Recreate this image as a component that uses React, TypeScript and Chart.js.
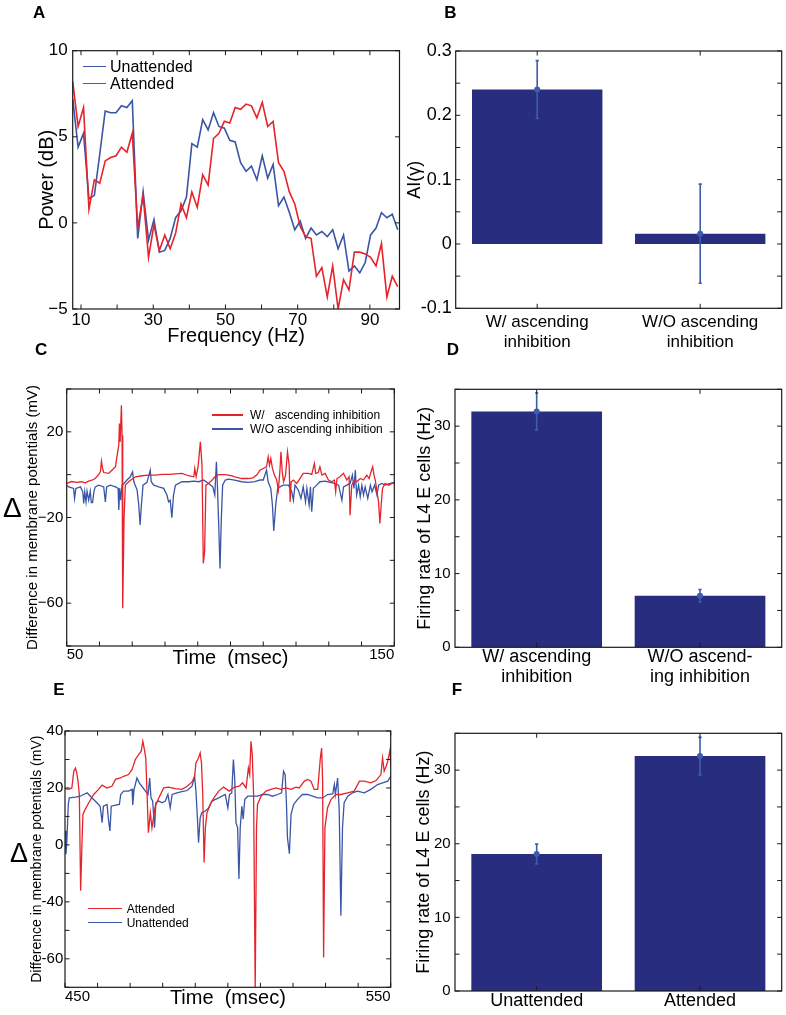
import React, { useEffect, useRef } from 'react';
import { Chart, registerables } from 'chart.js';

Chart.register(...registerables);

const FONT = '"Liberation Sans", Arial, Helvetica, sans-serif';
Chart.defaults.font.family = FONT;
Chart.defaults.color = '#000';

const RED = '#e6232b';
const BLUE = '#3a55a5';
const NAVY = '#282d80';
const ERR = '#3d5dab';

// ---------------- Panel A: power spectrum ----------------
const A_FREQ = [
  7.7, 9.2, 10.7, 12.2, 13.7, 15.2, 16.7, 18.2, 19.7, 21.2,
  22.7, 24.2, 25.7, 27.2, 28.7, 30.2, 31.7, 33.2, 34.7, 36.2,
  37.7, 39.2, 40.7, 42.2, 43.7, 45.2, 46.7, 48.2, 49.7, 51.2,
  52.7, 54.2, 55.7, 57.2, 58.7, 60.2, 61.7, 63.2, 64.7, 66.2,
  67.7, 69.2, 70.7, 72.2, 73.7, 75.2, 76.7, 78.2, 79.7, 81.2,
  82.7, 84.2, 85.7, 87.2, 88.7, 90.2, 91.7, 93.2, 94.7, 96.2,
  97.7,
];
const A_UNATTENDED = [
  7.2, 4.4, 5.2, 1.4, 1.6, 4.0, 6.5, 6.4, 6.4, 6.8,
  6.7, 7.1, -0.9, 1.8, -1.0, 0.2, -1.7, -1.6, -0.9, 0.3,
  0.7, 1.5, 4.6, 4.4, 6.0, 5.4, 6.4, 5.6, 5.5, 4.8,
  4.7, 3.5, 3.0, 3.3, 2.5, 3.9, 2.6, 3.4, 1.0, 1.5,
  0.6, -0.4, 0.1, -0.9, -0.3, -0.7, -0.5, -0.8, -0.4, -1.5,
  -0.7, -2.8, -2.5, -2.9, -2.3, -0.7, -0.3, 0.6, 0.3, 0.5,
  -0.4,
];
const A_ATTENDED = [
  8.2, 5.6, 6.7, 0.8, 2.5, 2.3, 3.6, 3.8, 3.9, 4.4,
  4.1, 5.2, -0.3, 1.6, -2.0, -0.1, -1.6, -0.7, -1.5, -0.6,
  1.1, 0.3, 1.8, 0.9, 2.8, 2.2, 4.9, 5.2, 5.9, 5.8,
  6.7, 6.6, 6.9, 6.8, 6.1, 7.0, 5.6, 5.9, 3.5, 3.0,
  1.8, 1.1, -0.2, -0.8, -0.9, -3.1, -2.6, -4.3, -2.5, -5.0,
  -3.3, -3.9, -1.7, -1.7, -1.8, -2.0, -2.5, -1.2, -4.3, -3.1,
  -3.7,
];
const A_X_TICKS = [10, 20, 30, 40, 50, 60, 70, 80, 90];
const A_X_LABELS = ['10', '', '30', '', '50', '', '70', '', '90'];
const A_Y_TICKS = [-5, 0, 5, 10];
const A_Y_LABELS = ['\u22125', '0', '5', '10'];

// ---------------- Panel B: attention index ----------------
const B_CATEGORIES = [['W/ ascending', 'inhibition'], ['W/O ascending', 'inhibition']];
const B_VALUES = [0.24, 0.016];
const B_ERRORS = [0.045, 0.077];
const B_Y_TICKS = [-0.1, -0.05, 0, 0.05, 0.1, 0.15, 0.2, 0.25, 0.3];
const B_Y_LABELS = ['-0.1', '', '0', '', '0.1', '', '0.2', '', '0.3'];

// ---------------- Panel C: membrane potential differences ----------------
const C_W_TIME = [
  50, 51.5, 53, 54.5, 55.7, 56.7, 57.7, 58.7, 59.8, 60.3,
  60.6, 61.0, 61.3, 62.8, 63.8, 64.9, 65.4, 65.9, 66.1, 66.3,
  66.7, 66.9, 67.1, 67.5, 67.9, 68.9, 69.9, 71.0, 73.0, 75.0,
  77.1, 79.1, 81.1, 83.2, 85.2, 87.2, 88.8, 89.1, 89.5, 90.1,
  90.8, 91.3, 91.7, 92.1, 92.5, 93.3, 94.4, 95.4, 96.4, 98.4,
  100.5, 101.3, 103.4, 105.4, 106.9, 108.0, 109.0, 110.0, 111.0, 111.5,
  111.9, 112.3, 112.8, 113.4, 114.1, 114.6, 115.1, 115.4, 115.8, 116.2,
  116.8, 117.4, 117.9, 118.2, 118.5, 119.2, 120.2, 121.2, 122.2, 123.8,
  124.8, 125.6, 126.0, 126.8, 127.3, 127.9, 128.9, 129.9, 130.9, 131.7,
  132.1, 132.5, 133.4, 134.5, 135.5, 136.2, 136.5, 137.0, 137.9, 138.6,
  139.6, 140.6, 141.6, 142.3, 142.9, 143.4, 143.8, 144.2, 144.7, 145.2,
  145.6, 146.0, 146.4, 147.2, 148.3, 149.3, 150,
];
const C_W_MV = [
  -4.1, -3.2, -3.6, -3.3, -3.8, -3.0, -2.6, -1.8, 0.1, 1.5,
  6.3, 2.5, 1.0, 0.6, 2.1, 3.7, 9.1, 13.8, 23.9, 15.3,
  32.4, 18.4, -62.4, -20.4, -4.9, -3.3, -2.1, -1.0, -0.5, -0.2,
  -0.2, 0.1, 0.1, 0.4, 0.6, -0.5, -1.0, 2.9, -1.0, 3.7,
  15.3, 4.5, -41.4, -36.0, -4.9, -4.1, -2.5, -0.8, 0.0, 0.0,
  -0.6, -1.0, -1.8, -1.8, -1.5, -0.2, 2.1, 2.9, 3.7, 8.3,
  4.4, 7.6, 2.9, -0.2, -2.5, -7.2, 2.1, 10.7, 1.3, -3.3,
  -0.2, 10.7, 4.4, -12.7, -3.3, -2.5, -4.1, -1.8, 0.6, 0.6,
  0.1, 5.2, 0.6, 1.0, 3.7, -0.2, 0.6, -2.5, -3.3, -2.5,
  -8.0, -1.8, -1.0, 0.6, -2.5, -1.0, -18.9, -4.9, -2.5, -3.3,
  -1.8, -2.5, -0.2, -1.8, 1.3, 3.7, -0.2, -2.5, -8.0, -12.7,
  -22.8, -14.2, -6.4, -4.1, -4.9, -4.1, -4.1,
];
const C_WO_TIME = [
  50, 50.6, 52.1, 52.4, 52.8, 54.2, 54.9, 55.2, 55.5, 55.9,
  56.2, 56.7, 57.2, 57.5, 57.9, 58.3, 58.7, 59.8, 61.3, 61.8,
  62.2, 63.3, 64.9, 65.7, 65.9, 66.2, 66.5, 66.9, 67.5, 68.4,
  69.4, 70.1, 70.5, 71.5, 72.0, 72.4, 72.8, 73.3, 74.5, 75.5,
  75.8, 76.6, 78.1, 79.6, 80.6, 81.1, 81.6, 82.1, 82.6, 83.2,
  85.2, 87.2, 88.8, 90.3, 91.8, 93.3, 94.6, 95.2, 95.7, 96.0,
  96.4, 96.8, 97.2, 97.6, 98.4, 99.4,
  101.3, 103.4, 105.4, 107.4, 109.0, 110.0, 111.0, 111.5, 112.3, 112.8,
  113.2, 113.8, 114.4, 115.1, 116.1, 117.7, 118.7, 119.2, 119.7, 120.7,
  121.5, 122.2, 122.9, 123.3, 124.0, 124.4, 124.8, 125.3, 126.3, 127.3,
  128.9, 130.4, 131.7, 133.0, 134.0, 134.5, 135.5, 136.5, 137.2, 137.7,
  138.1, 138.5, 139.1, 139.6, 140.1, 140.6, 141.1, 141.9, 142.7, 143.2,
  144.0, 144.7, 145.2, 146.2, 147.2, 148.8, 150,
];
const C_WO_MV = [
  -4.9, -5.7, -6.4, -11.1, -6.4, -5.7, -8.0, -13.4, -8.0, -12.7,
  -7.7, -11.9, -7.7, -13.0, -13.0, -8.0, -5.7, -4.9, -5.7, -12.7,
  -5.7, -4.9, -5.7, -6.4, -16.5, -6.4, -11.9, -4.9, -4.1, -2.5,
  -1.0, 1.3, -3.3, -7.2, -14.2, -23.5, -14.2, -4.9, -3.6, 2.1,
  -3.3, -4.9, -5.7, -6.4, -9.5, -12.7, -11.9, -20.1, -9.5, -4.9,
  -3.3, -3.3, -3.0, -3.3, -2.5, -4.1, -5.7, -9.5, 6.0, -4.9,
  -23.5, -43.8, -20.4, -4.9, -2.5, -2.1,
  -2.5, -3.3, -3.6, -3.3, -2.5, -2.5, 2.1, -3.3, -6.4, -14.2,
  -26.3, -14.2, -6.4, -5.7, -4.9, -4.9, -8.0, -11.9, -4.9, -7.2,
  -11.1, -5.7, -12.7, -6.4, -14.2, -5.7, -17.3, -6.4, -4.9, -3.3,
  -3.0, -3.6, -4.1, -4.9, -11.9, -5.7, -4.9, -4.1, -0.2, -6.4,
  2.1, -9.5, -4.9, -10.3, -4.9, -9.5, -5.7, -11.1, -4.9, -8.0,
  -4.9, -9.5, -4.9, -4.1, -4.9, -4.1, -3.6,
];
const C_X_TICKS = [50, 60, 70, 80, 90, 100, 110, 120, 130, 140, 150];
const C_X_LABELS = ['50', '', '', '', '', '', '', '', '', '', '150'];
const C_Y_TICKS = [-80, -60, -40, -20, 0, 20, 40];
const C_Y_LABELS = ['', '\u221260', '', '\u221220', '', '20', ''];

// ---------------- Panel D: firing rates ----------------
const D_CATEGORIES = [['W/ ascending', 'inhibition'], ['W/O ascend-', 'ing inhibition']];
const D_VALUES = [32.0, 7.0];
const D_ERRORS = [2.5, 0.85];
const RATE_Y_TICKS = [0, 5, 10, 15, 20, 25, 30, 35];
const RATE_Y_LABELS = ['0', '', '10', '', '20', '', '30', ''];

// ---------------- Panel E: attended vs unattended potentials ----------------
const E_ATT_TIME = [
  450, 451.1, 452.1, 452.7, 453.2, 453.6, 454.0, 454.4, 454.8, 455.2,
  455.5, 456.2, 457.3, 458.8, 460.3, 461.4, 462.9, 464.4, 465.5, 467.0,
  468.0, 469.5, 470.6, 471.6, 472.6, 473.4, 473.9, 474.3, 474.8, 475.2,
  475.6, 476.2, 476.7, 477.7, 478.8, 480.3, 481.8, 483.9, 485.9, 487.5,
  489.0, 489.8, 490.2, 491.0, 491.5, 491.9, 492.3, 492.7, 493.1, 493.6,
  494.6, 495.7, 497.2, 498.7,
  500.4, 502.0, 503.5, 504.5, 505.6, 506.3, 506.7, 507.1, 507.5, 507.9,
  508.4, 508.8, 509.1, 510.2, 511.7, 513.2, 514.8, 516.3, 517.8, 519.4,
  520.9, 521.9, 523.5, 524.5, 525.5, 526.5, 527.6, 528.4, 528.8, 529.1,
  529.4, 529.8, 530.6, 531.7, 533.2, 534.7, 536.8, 538.8, 540.4, 541.9,
  543.9, 545.5, 547.0, 547.5, 548.0, 548.8, 549.3, 549.8, 550,
];
const E_ATT_MV = [
  19.8, 19.5, 20.0, 25.9, 27.0, 25.3, 22.4, 17.7, -16.1, 0.2,
  10.7, 12.5, 14.8, 17.7, 19.5, 21.0, 20.0, 20.6, 23.0, 23.5,
  24.1, 24.7, 26.5, 30.0, 31.7, 32.9, 36.4, 34.0, 30.5, 17.7,
  4.3, 11.3, 6.0, 13.6, 16.5, 20.0, 20.3, 19.8, 19.5, 20.6,
  22.1, 24.1, 28.8, 30.5, 32.3, 28.8, 17.7, -6.2, 6.0, 11.3,
  14.2, 16.5, 18.9, 20.3,
  18.9, 20.3, 20.6, 21.8, 20.0, 27.0, 24.7, 36.4, 31.7, 17.7,
  -50.5, 6.0, 14.2, 17.1, 18.9, 19.5, 20.0, 19.5, 20.0, 19.5,
  20.3, 20.0, 22.4, 23.0, 22.4, 19.5, 19.5, 30.5, 34.0, 22.4,
  -39.5, 6.0, 13.0, 16.0, 17.7, 17.7, 18.3, 18.9, 22.4, 22.4,
  21.8, 22.6, 24.7, 30.5, 25.9, 28.2, 30.5, 33.5, 28.2,
];
const E_UNATT_TIME = [
  450, 450.3, 450.6, 451.0, 451.3, 453.2, 454.7, 455.7, 456.8, 458.3,
  459.8, 460.8, 461.4, 461.8, 462.9, 463.4, 463.8, 464.2, 465.5, 466.7,
  467.1, 468.0, 469.5, 470.6, 470.8, 471.2, 472.1, 472.8, 473.6, 474.7,
  475.5, 476.0, 476.4, 476.9, 477.5, 477.9, 478.8, 479.8, 480.8, 481.6,
  482.3, 482.9, 484.4, 485.9, 487.5, 489.0, 489.8, 490.2, 490.6, 491.0,
  491.5, 492.0, 493.1, 494.1, 495.1, 497.2, 499.2, 500.0, 500.5,
  501.2, 501.7, 502.1, 502.5, 503.0, 503.4, 503.8, 504.3, 504.7, 505.2,
  506.1, 507.6, 509.1, 510.7, 512.2, 513.7, 515.3, 516.5, 517.1, 517.6,
  518.0, 518.3, 518.9, 519.4, 520.2, 521.4, 522.9, 524.5, 526.0, 527.6,
  529.1, 530.6, 532.2, 532.7, 533.0, 533.7, 534.2, 534.7, 535.2, 535.7,
  536.8, 538.3, 539.8, 541.9, 543.9, 546.0, 547.5, 549.1, 550,
];
const E_UNATT_MV = [
  5.0, -3.3, 2.0, 14.0, 16.5, 16.8, 17.1, 17.7, 18.3, 16.5,
  14.8, 13.6, 7.8, 13.6, 14.2, 8.3, 4.9, 13.6, 14.0, 14.2,
  17.7, 18.9, 18.9, 19.5, 14.0, 19.5, 23.5, 21.8, 20.6, 18.9,
  17.7, 23.5, 16.5, 15.4, 6.0, 14.8, 15.4, 14.8, 15.4, 17.7,
  13.0, 17.7, 18.3, 18.7, 19.1, 20.6, 24.1, 18.9, 10.7, 0.8,
  9.5, 11.3, 11.9, 13.0, 15.4, 16.5, 17.7, 13.0, 17.7,
  18.3, 30.0, 23.5, 7.8, 6.0, -12.0, 6.0, 13.6, 9.0, 16.0,
  17.1, 17.1, 17.1, 17.7, 17.7, 17.1, 17.7, 18.3, 25.9, 24.7,
  14.2, 2.5, -3.1, 10.7, 14.2, 16.0, 17.7, 17.7, 17.1, 16.5,
  16.5, 17.7, 17.9, 21.2, 17.7, 23.5, 11.9, -24.9, 6.0, 14.8,
  17.1, 18.3, 18.9, 18.3, 19.5, 21.2, 21.8, 22.4, 24.1,
];
const E_X_TICKS = [450, 460, 470, 480, 490, 500, 510, 520, 530, 540, 550];
const E_X_LABELS = ['450', '', '', '', '', '', '', '', '', '', '550'];
const E_Y_TICKS = [-50, -40, -30, -20, -10, 0, 10, 20, 30, 40];
const E_Y_LABELS = ['', '-60', '', '-40', '', '0', '', '20', '', '40'];

// ---------------- Panel F: firing rates ----------------
const F_CATEGORIES = ['Unattended', 'Attended'];
const F_VALUES = [18.6, 31.9];
const F_ERRORS = [1.35, 2.55];

// ---------------- helpers ----------------
const framePlugin = {
  id: 'matlabFrame',
  afterDraw(chart: any) {
    const { ctx, chartArea: a } = chart;
    const xs = chart.scales.x;
    const ys = chart.scales.y;
    const L = 4.5;
    ctx.save();
    ctx.strokeStyle = '#1a1a1a';
    ctx.lineWidth = 1;
    ctx.beginPath();
    xs.ticks.forEach((_t: any, i: number) => {
      const px = xs.getPixelForTick(i);
      ctx.moveTo(px, a.bottom);
      ctx.lineTo(px, a.bottom - L);
      ctx.moveTo(px, a.top);
      ctx.lineTo(px, a.top + L);
    });
    ys.ticks.forEach((_t: any, i: number) => {
      const py = ys.getPixelForTick(i);
      ctx.moveTo(a.left, py);
      ctx.lineTo(a.left + L, py);
      ctx.moveTo(a.right, py);
      ctx.lineTo(a.right - L, py);
    });
    ctx.stroke();
    ctx.lineWidth = 1.2;
    ctx.strokeRect(a.left, a.top, a.right - a.left, a.bottom - a.top);
    ctx.restore();
  },
};

function errorBarPlugin(values: number[], errors: number[]) {
  return {
    id: 'errorBars',
    afterDatasetsDraw(chart: any) {
      const { ctx } = chart;
      const xs = chart.scales.x;
      const ys = chart.scales.y;
      ctx.save();
      ctx.strokeStyle = ERR;
      ctx.fillStyle = ERR;
      ctx.lineWidth = 1.6;
      values.forEach((v, i) => {
        const x = xs.getPixelForValue(i);
        const yt = ys.getPixelForValue(v + errors[i]);
        const yb = ys.getPixelForValue(v - errors[i]);
        const ym = ys.getPixelForValue(v);
        ctx.beginPath();
        ctx.moveTo(x, yt);
        ctx.lineTo(x, yb);
        ctx.moveTo(x - 1.6, yt);
        ctx.lineTo(x + 1.6, yt);
        ctx.moveTo(x - 1.6, yb);
        ctx.lineTo(x + 1.6, yb);
        ctx.stroke();
        ctx.beginPath();
        ctx.arc(x, ym, 3, 0, Math.PI * 2);
        ctx.fill();
      });
      ctx.restore();
    },
  };
}

function baseOptions(width: number, plotTop: number, plotRight: number) {
  return {
    responsive: false,
    animation: false,
    events: [],
    layout: { autoPadding: false, padding: { left: 0, top: plotTop, right: width - plotRight, bottom: 0 } },
    plugins: { legend: { display: false }, tooltip: { enabled: false } },
  };
}

function yAxis(o: any) {
  return {
    type: 'linear',
    position: 'left',
    min: o.min,
    max: o.max,
    afterBuildTicks: (s: any) => {
      s.ticks = o.ticks.map((v: number) => ({ value: v }));
    },
    afterFit: (s: any) => {
      s.width = o.width;
      s.paddingTop = 0;
      s.paddingBottom = 0;
    },
    grid: { display: false, drawTicks: false },
    border: { display: false },
    ticks: {
      autoSkip: false,
      padding: o.pad,
      font: { size: o.size },
      color: '#000',
      callback: (_v: any, i: number) => o.labels[i],
    },
    title: {
      display: true,
      text: o.title,
      color: '#000',
      font: { size: o.titleSize },
      padding: { top: o.titlePad, bottom: 0 },
    },
  };
}

function xLinear(o: any) {
  return {
    type: 'linear',
    position: 'bottom',
    min: o.min,
    max: o.max,
    afterBuildTicks: (s: any) => {
      s.ticks = o.ticks.map((v: number) => ({ value: v }));
    },
    afterFit: (s: any) => {
      s.height = o.height;
      s.paddingLeft = 0;
      s.paddingRight = 0;
    },
    grid: { display: false, drawTicks: false },
    border: { display: false },
    ticks: {
      autoSkip: false,
      maxRotation: 0,
      minRotation: 0,
      align: o.align || 'center',
      padding: o.pad,
      font: { size: o.size },
      color: '#000',
      callback: (_v: any, i: number) => o.labels[i],
    },
    title: {
      display: true,
      text: o.title,
      color: '#000',
      font: { size: o.titleSize },
      padding: { top: 0, bottom: o.titlePad },
    },
  };
}

function xCategory(o: any) {
  return {
    type: 'category',
    position: 'bottom',
    offset: true,
    afterFit: (s: any) => {
      s.height = o.height;
      s.paddingLeft = 0;
      s.paddingRight = 0;
    },
    grid: { display: false, drawTicks: false },
    border: { display: false },
    ticks: {
      autoSkip: false,
      maxRotation: 0,
      minRotation: 0,
      padding: o.pad,
      font: { size: o.size, lineHeight: o.lineHeight },
      color: '#000',
    },
  };
}

function lineSet(xs: number[], ys: number[], color: string, width: number) {
  return {
    data: xs.map((x, i) => ({ x, y: ys[i] })),
    borderColor: color,
    backgroundColor: color,
    borderWidth: width,
    pointRadius: 0,
    showLine: true,
    fill: false,
    tension: 0,
  };
}

function barConfig(o: any) {
  return {
    type: 'bar',
    data: {
      labels: o.categories,
      datasets: [
        {
          data: o.values,
          backgroundColor: NAVY,
          borderWidth: 0,
          barPercentage: 0.8,
          categoryPercentage: 1,
        },
      ],
    },
    options: {
      ...baseOptions(o.width, o.plotTop, o.plotRight),
      scales: {
        x: xCategory({ height: o.width && o.xHeight, pad: o.xPad, size: o.xSize, lineHeight: o.xLineHeight }),
        y: yAxis(o.y),
      },
    },
    plugins: [framePlugin, errorBarPlugin(o.values, o.errors)],
  };
}

// ---------------- chart configs ----------------
const configA = () => ({
  type: 'scatter',
  data: {
    datasets: [lineSet(A_FREQ, A_ATTENDED, RED, 1.6), lineSet(A_FREQ, A_UNATTENDED, BLUE, 1.6)],
  },
  options: {
    ...baseOptions(402, 50.7, 399.5),
    scales: {
      x: xLinear({
        min: 7.7, max: 98.2, ticks: A_X_TICKS, labels: A_X_LABELS, size: 17, pad: 1, height: 41,
        title: 'Frequency (Hz)', titleSize: 20, titlePad: 2,
      }),
      y: yAxis({
        min: -5, max: 10, ticks: A_Y_TICKS, labels: A_Y_LABELS, size: 17, pad: 5, width: 72.7,
        title: 'Power (dB)', titleSize: 20, titlePad: 35,
      }),
    },
  },
  plugins: [framePlugin],
});

const configB = () =>
  barConfig({
    categories: B_CATEGORIES, values: B_VALUES, errors: B_ERRORS,
    width: 384, plotTop: 51, plotRight: 379.7, xHeight: 51.7, xPad: 3.9, xSize: 17, xLineHeight: 1.2,
    y: {
      min: -0.1, max: 0.3, ticks: B_Y_TICKS, labels: B_Y_LABELS, size: 18, pad: 4, width: 53.7,
      title: 'AI(\u03b3)', titleSize: 18, titlePad: 2.2,
    },
  });

const configC = () => ({
  type: 'scatter',
  data: {
    datasets: [lineSet(C_W_TIME, C_W_MV, RED, 1.3), lineSet(C_WO_TIME, C_WO_MV, BLUE, 1.3)],
  },
  options: {
    ...baseOptions(402, 29, 394.3),
    scales: {
      x: xLinear({
        min: 50, max: 150, ticks: C_X_TICKS, labels: C_X_LABELS, size: 15, pad: 0, height: 34, align: 'inner',
        title: 'Time  (msec)', titleSize: 20, titlePad: 9.5,
      }),
      y: yAxis({
        min: -80, max: 40, ticks: C_Y_TICKS, labels: C_Y_LABELS, size: 15, pad: 3.4, width: 66.7,
        title: 'Difference in membrane potentials (mV)', titleSize: 15, titlePad: 23.5,
      }),
    },
  },
  plugins: [framePlugin],
});

const configD = () =>
  barConfig({
    categories: D_CATEGORIES, values: D_VALUES, errors: D_ERRORS,
    width: 384, plotTop: 29.3, plotRight: 379.7, xHeight: 47.7, xPad: 0.3, xSize: 18, xLineHeight: 1.1,
    y: {
      min: 0, max: 35, ticks: RATE_Y_TICKS, labels: RATE_Y_LABELS, size: 15, pad: 4.3, width: 53,
      title: 'Firing rate of L4 E cells (Hz)', titleSize: 18, titlePad: 12.2,
    },
  });

const configE = () => ({
  type: 'scatter',
  data: {
    datasets: [lineSet(E_ATT_TIME, E_ATT_MV, RED, 1.3), lineSet(E_UNATT_TIME, E_UNATT_MV, BLUE, 1.3)],
  },
  options: {
    ...baseOptions(402, 36, 390.7),
    scales: {
      x: xLinear({
        min: 450, max: 550, ticks: E_X_TICKS, labels: E_X_LABELS, size: 15, pad: 0.4, height: 27.7, align: 'inner',
        title: 'Time  (msec)', titleSize: 20, titlePad: 4.7,
      }),
      y: yAxis({
        min: -50, max: 40, ticks: E_Y_TICKS, labels: E_Y_LABELS, size: 15, pad: 1.7, width: 65,
        title: 'Difference in membrane potentials (mV)', titleSize: 14, titlePad: 29.1,
      }),
    },
  },
  plugins: [framePlugin],
});

const configF = () =>
  barConfig({
    categories: F_CATEGORIES, values: F_VALUES, errors: F_ERRORS,
    width: 384, plotTop: 38.3, plotRight: 379.7, xHeight: 24, xPad: 0, xSize: 18, xLineHeight: 1.1,
    y: {
      min: 0, max: 35, ticks: RATE_Y_TICKS, labels: RATE_Y_LABELS, size: 15, pad: 4.3, width: 53,
      title: 'Firing rate of L4 E cells (Hz)', titleSize: 18, titlePad: 11.2,
    },
  });

// ---------------- components ----------------
function Panel({ left, top, width, height, make }: any) {
  const ref = useRef<HTMLCanvasElement>(null);
  useEffect(() => {
    const chart = new Chart(ref.current as HTMLCanvasElement, make() as any);
    return () => chart.destroy();
  }, []);
  return (
    <canvas
      ref={ref}
      width={width}
      height={height}
      style={{ position: 'absolute', left, top, width, height, display: 'block' }}
    />
  );
}

function Text({ left, top, size, bold, children }: any) {
  return (
    <div
      style={{
        position: 'absolute',
        left,
        top,
        fontSize: size,
        lineHeight: `${size}px`,
        fontFamily: FONT,
        fontWeight: bold ? 'bold' : 'normal',
        whiteSpace: 'pre',
        color: '#000',
      }}
    >
      {children}
    </div>
  );
}

function LegendLine({ x1, x2, y, color }: any) {
  return (
    <div
      style={{ position: 'absolute', left: x1, top: y - 0.8, width: x2 - x1, height: 1.6, background: color }}
    />
  );
}

export default function App() {
  return (
    <div style={{ position: 'fixed', left: 0, top: 0, width: 786, height: 1015, background: '#fff', overflow: 'hidden' }}>
      <Panel left={0} top={0} width={402} height={350} make={configA} />
      <Panel left={402} top={0} width={384} height={360} make={configB} />
      <Panel left={0} top={360} width={402} height={320} make={configC} />
      <Panel left={402} top={360} width={384} height={335} make={configD} />
      <Panel left={0} top={695} width={402} height={320} make={configE} />
      <Panel left={402} top={695} width={384} height={320} make={configF} />

      <Text left={33} top={3.9} size={17} bold>A</Text>
      <Text left={444.3} top={3.9} size={17} bold>B</Text>
      <Text left={35} top={340.5} size={17} bold>C</Text>
      <Text left={446.7} top={340.5} size={17} bold>D</Text>
      <Text left={53.3} top={680.5} size={17} bold>E</Text>
      <Text left={451.7} top={681.2} size={17} bold>F</Text>

      {/* Legend A */}
      <LegendLine x1={83.3} x2={106} y={66.7} color={BLUE} />
      <Text left={110} top={59.1} size={16}>Unattended</Text>
      <LegendLine x1={83.3} x2={106} y={83.3} color={RED} />
      <Text left={110} top={75.7} size={16}>Attended</Text>

      {/* Legend C */}
      <LegendLine x1={211.7} x2={243.3} y={415} color={RED} />
      <Text left={250} top={408.5} size={12}>{'W/   ascending inhibition'}</Text>
      <LegendLine x1={211.7} x2={243.3} y={429} color={BLUE} />
      <Text left={250} top={422.5} size={12}>W/O ascending inhibition</Text>

      {/* Legend E */}
      <LegendLine x1={88.3} x2={121.7} y={908.3} color={RED} />
      <Text left={126.7} top={902.5} size={12}>Attended</Text>
      <LegendLine x1={88.3} x2={121.7} y={922.3} color={BLUE} />
      <Text left={126.7} top={916.5} size={12}>Unattended</Text>

      {/* Delta symbols */}
      <Text left={3} top={494.2} size={28}>{'\u0394'}</Text>
      <Text left={10} top={839.6} size={27}>{'\u0394'}</Text>
    </div>
  );
}
